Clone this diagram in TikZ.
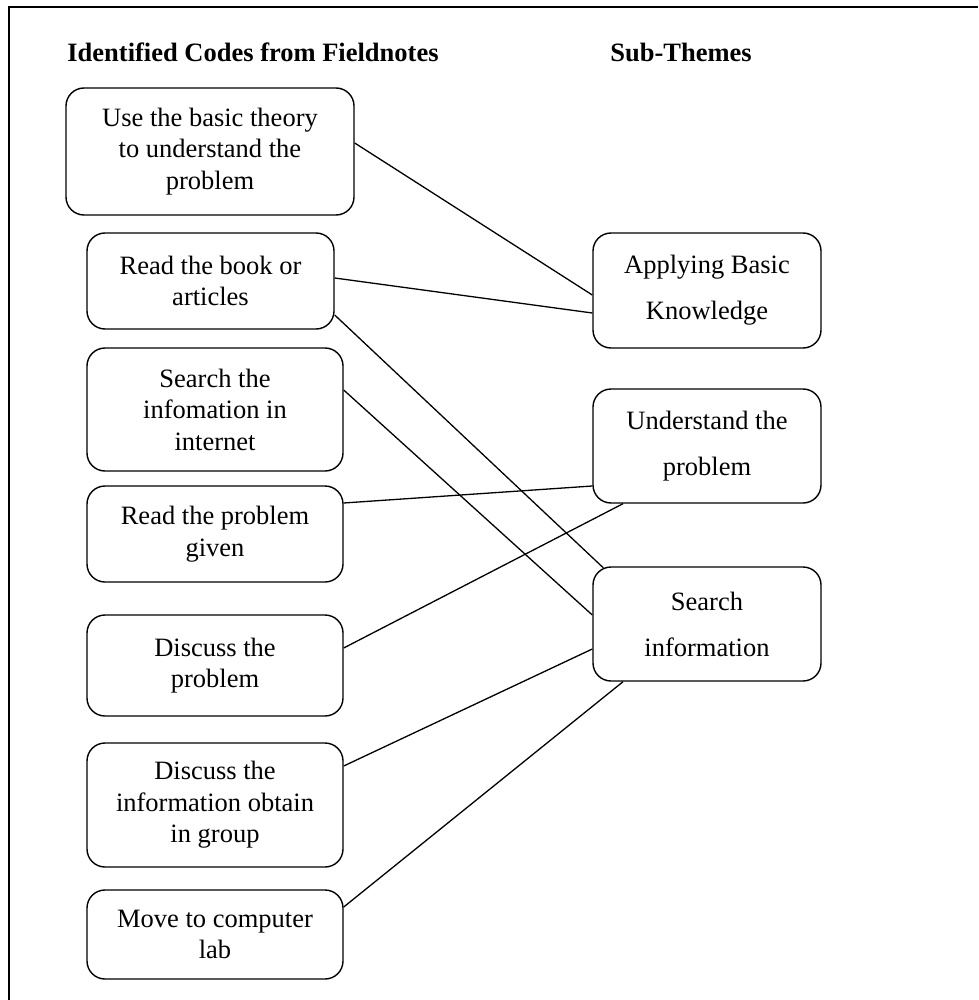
\documentclass[tikz,border=0pt]{standalone}
\usepackage{fontspec}
\setmainfont{Liberation Serif}
\begin{document}
\begin{tikzpicture}[x=1pt,y=-1pt,
  codebox/.style={draw, line width=1.4pt, rounded corners=18pt, align=center,
    inner sep=0pt, font=\fontsize{26.5}{31.5}\selectfont},
  themebox/.style={codebox, font=\fontsize{26.5}{46}\selectfont},
  heading/.style={font=\fontsize{26.5}{30}\selectfont\bfseries, anchor=base},
  link/.style={line width=1.3pt}]
\useasboundingbox (0,0) rectangle (978,1000);

% outer frame
\draw[line width=1.5pt] (978,7) -- (9,7) -- (9,1000);

% column headings
\node[heading] (h1) at (253,62) {Identified Codes from Fieldnotes};
\node[heading] (h2) at (681,62) {Sub-Themes};

% codes
\node[codebox, minimum width=288pt, minimum height=127pt] (b1) at (210,151.5)
  {Use the basic theory\\to understand the\\problem};
\node[codebox, minimum width=247pt, minimum height=96pt] (b2) at (210.5,281)
  {Read the book or\\articles};
\node[codebox, minimum width=256pt, minimum height=123pt] (b3) at (215,409.5)
  {Search the\\infomation in\\internet};
\node[codebox, minimum width=256pt, minimum height=96pt] (b4) at (215,534)
  {Read the problem\\given};
\node[codebox, minimum width=256pt, minimum height=101pt] (b5) at (215,665.5)
  {Discuss the\\problem};
\node[codebox, minimum width=256pt, minimum height=124pt] (b6) at (215,805)
  {Discuss the\\information obtain\\in group};
\node[codebox, minimum width=256pt, minimum height=89pt] (b7) at (215,934.5)
  {Move to computer\\lab};

% sub-themes
\node[themebox, minimum width=228pt, minimum height=115pt] (s1) at (707,290.5)
  {Applying Basic\\Knowledge};
\node[themebox, minimum width=228pt, minimum height=114pt] (s2) at (707,446)
  {Understand the\\problem};
\node[themebox, minimum width=228pt, minimum height=114pt] (s3) at (707,624)
  {Search\\information};

% links from codes to sub-themes
\draw[link] ([yshift=8.5pt]b1.east) -- ([yshift=-4.5pt]s1.west);
\draw[link] ([yshift=3pt]b2.east) -- ([yshift=-22.5pt]s1.west);
\draw[link] ([yshift=-34pt]b2.east) -- ([xshift=11pt,yshift=-1.5pt]s3.north west);
\draw[link] ([yshift=19.5pt]b3.east) -- ([yshift=9pt]s3.west);
\draw[link] ([yshift=31pt]b4.east) -- ([yshift=-40pt]s2.west);
\draw[link] ([yshift=17.5pt]b5.east) -- ([xshift=-84pt]s2.south);
\draw[link] ([yshift=39pt]b6.east) -- ([yshift=-25pt]s3.west);
\draw[link] ([yshift=27.5pt]b7.east) -- ([xshift=-84pt]s3.south);
\end{tikzpicture}
\end{document}
